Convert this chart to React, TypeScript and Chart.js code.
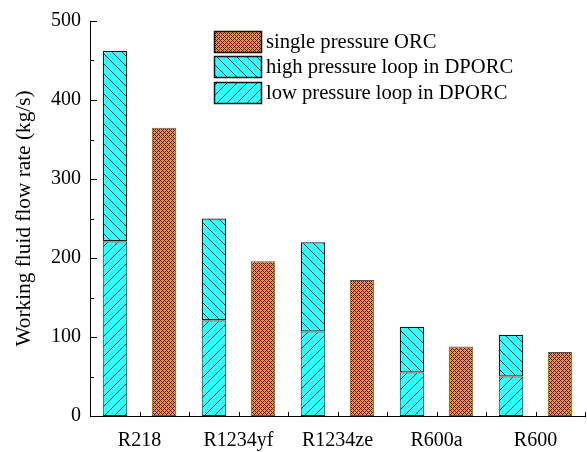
import React, { useEffect, useRef } from "react";
import { Chart, registerables } from "chart.js";

Chart.register(...registerables);

const categories = ["R218", "R1234yf", "R1234ze", "R600a", "R600"];
const lowLoop = [221, 121, 107, 55, 50];
const highLoop = [241, 129, 113, 58, 53];
const singleORC = [365, 196, 172, 88, 81];
const yTicks = [0, 100, 200, 300, 400, 500];
const labelSingle = "single pressure ORC";
const labelHigh = "high pressure loop in DPORC";
const labelLow = "low pressure loop in DPORC";

const FONT = '"Liberation Serif", "Times New Roman", serif';

function hatch(dir: "back" | "fwd"): CanvasPattern | string {
  const c = document.createElement("canvas");
  const s = 10;
  c.width = s;
  c.height = s;
  const g = c.getContext("2d");
  if (!g) return "#2effff";
  g.fillStyle = "#2effff";
  g.fillRect(0, 0, s, s);
  g.strokeStyle = "#0a2a2a";
  g.lineWidth = 1;
  g.beginPath();
  if (dir === "back") {
    for (let k = -1; k <= 1; k++) {
      g.moveTo(k * s, 0);
      g.lineTo(k * s + s, s);
    }
  } else {
    for (let k = -1; k <= 1; k++) {
      g.moveTo(k * s, s);
      g.lineTo(k * s + s, 0);
    }
  }
  g.stroke();
  const p = g.createPattern(c, "repeat");
  return p || "#2effff";
}

function cross(): CanvasPattern | string {
  const c = document.createElement("canvas");
  const s = 4;
  c.width = s;
  c.height = s;
  const g = c.getContext("2d");
  if (!g) return "#f08a24";
  g.fillStyle = "#fa9420";
  g.fillRect(0, 0, s, s);
  g.fillStyle = "#3a1c05";
  for (let x = 0; x < s; x++) {
    for (let y = 0; y < s; y++) {
      if ((x + y) % 4 === 0 || (x - y + 8) % 4 === 0) g.fillRect(x, y, 1, 1);
    }
  }
  const p = g.createPattern(c, "repeat");
  return p || "#f08a24";
}

const tickPlugin = {
  id: "inwardTicks",
  afterDraw(chart: any) {
    const ctx = chart.ctx;
    const y = chart.scales.y;
    const x = chart.scales.x;
    const area = chart.chartArea;
    ctx.save();
    ctx.strokeStyle = "#000";
    ctx.lineWidth = 1;
    ctx.beginPath();
    for (let v = 0; v <= 500; v += 50) {
      const py = Math.round(y.getPixelForValue(v)) + 0.5;
      const len = v % 100 === 0 ? 7 : 4;
      ctx.moveTo(area.left, py);
      ctx.lineTo(area.left + len, py);
    }
    const n = categories.length;
    for (let i = 0; i < n; i++) {
      const c = x.getPixelForValue(i);
      const half = (x.getPixelForValue(1) - x.getPixelForValue(0)) / 2;
      const pts = [c, c + half];
      for (const px0 of pts) {
        const px = Math.round(px0) + 0.5;
        ctx.moveTo(px, area.bottom);
        ctx.lineTo(px, area.bottom - 4);
      }
    }
    ctx.stroke();
    ctx.restore();
  },
};

const legendPlugin = {
  id: "customLegend",
  afterDraw(chart: any) {
    const ctx = chart.ctx;
    const ds = chart.data.datasets;
    const order = [2, 1, 0];
    const bx = 214;
    const by = 31;
    const bw = 47;
    const bh = 21;
    const step = 25.3;
    ctx.save();
    order.forEach((di: number, i: number) => {
      const d = ds[di];
      const top = Math.round(by + i * step);
      ctx.fillStyle = d.backgroundColor;
      ctx.fillRect(bx, top, bw, bh);
      ctx.strokeStyle = "#111";
      ctx.lineWidth = 1.5;
      ctx.strokeRect(bx + 0.5, top + 0.5, bw, bh);
      ctx.fillStyle = "#000";
      ctx.font = "20.6px " + FONT;
      ctx.textBaseline = "middle";
      ctx.textAlign = "left";
      ctx.fillText(d.label, 266, top + bh / 2 + 1);
    });
    ctx.restore();
  },
};

export default function App() {
  const ref = useRef<HTMLCanvasElement | null>(null);
  useEffect(() => {
    document.body.style.margin = "0";
    const el = ref.current;
    if (!el) return;
    const chart = new Chart(el, {
      type: "bar",
      data: {
        labels: categories,
        datasets: [
          {
            label: labelLow,
            data: lowLoop,
            stack: "dp",
            backgroundColor: hatch("fwd") as any,
            borderColor: "#1a1a1a",
            borderWidth: 1,
            borderSkipped: false,
          },
          {
            label: labelHigh,
            data: highLoop,
            stack: "dp",
            backgroundColor: hatch("back") as any,
            borderColor: "#1a1a1a",
            borderWidth: 1.3,
            borderSkipped: false,
          },
          {
            label: labelSingle,
            data: singleORC,
            stack: "single",
            backgroundColor: cross() as any,
            borderColor: "#555",
            borderWidth: 1,
            borderSkipped: false,
          },
        ],
      },
      options: {
        animation: false,
        responsive: false,
        maintainAspectRatio: false,
        layout: { padding: { top: 16, right: 2, left: 0, bottom: 0 } },
        plugins: {
          legend: { display: false },
          tooltip: { enabled: false },
          title: { display: false },
        },
        datasets: {
          bar: { categoryPercentage: 0.99, barPercentage: 0.5 },
        },
        scales: {
          x: {
            stacked: true,
            offset: true,
            grid: { display: false, drawTicks: false },
            border: { display: true, color: "#000", width: 1 },
            ticks: {
              color: "#000",
              font: { family: FONT, size: 20 },
              padding: 13,
              maxRotation: 0,
              autoSkip: false,
            },
            afterFit: (s: any) => {
              s.height = 36;
            },
          },
          y: {
            stacked: true,
            min: 0,
            max: 500,
            afterBuildTicks: (s: any) => {
              s.ticks = yTicks.map((v) => ({ value: v }));
            },
            grid: { display: false, drawTicks: false },
            border: { display: true, color: "#000", width: 1 },
            ticks: {
              color: "#000",
              font: { family: FONT, size: 20 },
              padding: 9,
            },
            title: {
              display: true,
              text: "Working fluid flow rate (kg/s)",
              color: "#000",
              font: { family: FONT, size: 21.3 },
              padding: { top: 12, bottom: 0 },
            },
            afterFit: (s: any) => {
              s.width = 90;
            },
          },
        },
      },
      plugins: [tickPlugin, legendPlugin],
    });
    return () => chart.destroy();
  }, []);
  return (
    <div style={{ width: 587, height: 452, background: "#fff" }}>
      <canvas ref={ref} width={587} height={452} style={{ display: "block" }} />
    </div>
  );
}
